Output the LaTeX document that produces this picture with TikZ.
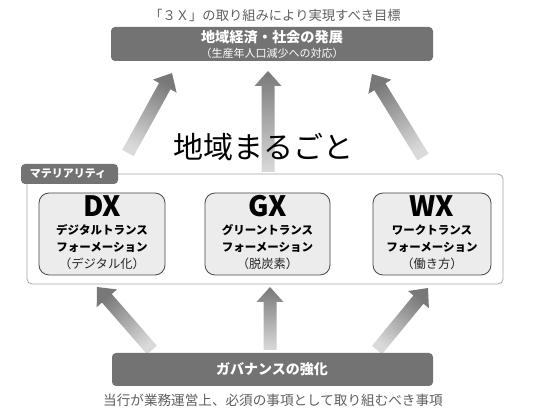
\documentclass[tikz,border=0pt]{standalone}
\usepackage{fontspec}
\newfontfamily\jp{Noto Sans CJK JP}
\usetikzlibrary{calc}
\definecolor{boxdark}{RGB}{115,115,115}
\definecolor{captxt}{RGB}{95,95,95}
\definecolor{xfill}{RGB}{236,236,236}
\definecolor{xline}{RGB}{70,70,70}
\definecolor{matline}{RGB}{165,165,165}
\definecolor{arrdark}{RGB}{120,120,120}
\definecolor{arrlight}{RGB}{218,218,218}
\newcommand\blkarrow[3]{%
  \coordinate (hb) at ($(#2)!15pt!(#1)$);
  \shade[top color=arrdark, bottom color=arrlight, shading angle=#3]
    ($(#1)!6.5pt!90:(#2)$) -- ($(hb)!6.5pt!90:(#2)$) -- ($(hb)!13.5pt!90:(#2)$) -- (#2)
    -- ($(hb)!13.5pt!-90:(#2)$) -- ($(hb)!6.5pt!-90:(#2)$) -- ($(#1)!6.5pt!-90:(#2)$) -- cycle;}
\tikzset{
  darkbox/.style={fill=boxdark, rounded corners=4pt, draw=none},
  xbox/.style={fill=xfill, draw=xline, line width=0.8pt, rounded corners=10pt},
  caption/.style={font=\jp\fontsize{13.3}{15}\selectfont, text=captxt, inner sep=0pt},
  whitebold/.style={font=\jp\bfseries\fontsize{#1}{#1}\selectfont, text=white, inner sep=0pt},
  xtitle/.style={font=\jp\bfseries\fontsize{28}{28}\selectfont, text=black, inner sep=0pt},
  xsub/.style={font=\jp\bfseries\fontsize{11.5}{12}\selectfont, text=black, inner sep=0pt},
  xnote/.style={font=\jp\fontsize{12.3}{13}\selectfont, text=black!85, inner sep=0pt},
}
\begin{document}
\begin{tikzpicture}[x=1pt,y=-1pt]
\useasboundingbox (0,0) rectangle (533,419);
% top caption and goal box
\node[caption] (topcap) at (275,15) {「３Ｘ」の取り組みにより実現すべき目標};
\draw[darkbox] (111,27) rectangle (433,61);
\coordinate (goal) at (272,44);
\node[whitebold=14.2] (goal1) at (272,37) {地域経済・社会の発展};
\node[font=\jp\fontsize{11}{11}\selectfont, text=white, inner sep=0pt] (goal2) at (272,53) {（生産年人口減少への対応）};
% top arrows
\coordinate (ta1) at (128,153); \coordinate (th1) at (172,73);
\coordinate (ta2) at (268,172); \coordinate (th2) at (268,71);
\coordinate (ta3) at (423,157); \coordinate (th3) at (372,74);
\blkarrow{ta1}{th1}{-29}
\blkarrow{ta2}{th2}{0}
\blkarrow{ta3}{th3}{31}
% big title
\node[font=\jp\fontsize{30}{30}\selectfont, inner sep=0pt] (region) at (263,147) {地域まるごと};
% materiality container
\draw[draw=matline, line width=0.8pt, fill=white, rounded corners=5pt] (27,174) rectangle (503,284);
\coordinate (mat) at (265,229);
\draw[darkbox] (21,164) rectangle (118,184);
\node[whitebold=11] (tag) at (68,174) {マテリアリティ};
% DX GX WX
\draw[xbox] (39,193) rectangle (165,275);
\draw[xbox] (205,193) rectangle (330,275);
\draw[xbox] (373,193) rectangle (491,275);
\node[xtitle] (dx) at (102,206) {DX};
\node[xsub] (dx1) at (102,230) {デジタルトランス};
\node[xsub] (dx2) at (102,247) {フォーメーション};
\node[xnote] (dx3) at (102,264) {（デジタル化）};
\node[xtitle] (gx) at (267.5,206) {GX};
\node[xsub] (gx1) at (267.5,230) {グリーントランス};
\node[xsub] (gx2) at (267.5,247) {フォーメーション};
\node[xnote] (gx3) at (267.5,264) {（脱炭素）};
\node[xtitle] (wx) at (432,206) {WX};
\node[xsub] (wx1) at (432,230) {ワークトランス};
\node[xsub] (wx2) at (432,247) {フォーメーション};
\node[xnote] (wx3) at (432,264) {（働き方）};
% bottom arrows
\coordinate (ba1) at (152,350); \coordinate (bh1) at (97,287);
\coordinate (ba2) at (270,350); \coordinate (bh2) at (270,287);
\coordinate (ba3) at (377,350); \coordinate (bh3) at (428,288);
\blkarrow{ba1}{bh1}{41}
\blkarrow{ba2}{bh2}{0}
\blkarrow{ba3}{bh3}{-39}
% governance box
\draw[darkbox] (112,353) rectangle (433,386);
\node[whitebold=14] (gov) at (272,369) {ガバナンスの強化};
\node[caption, font=\jp\fontsize{13.6}{15}\selectfont] (botcap) at (273,400) {当行が業務運営上、必須の事項として取り組むべき事項};
\end{tikzpicture}
\end{document}
